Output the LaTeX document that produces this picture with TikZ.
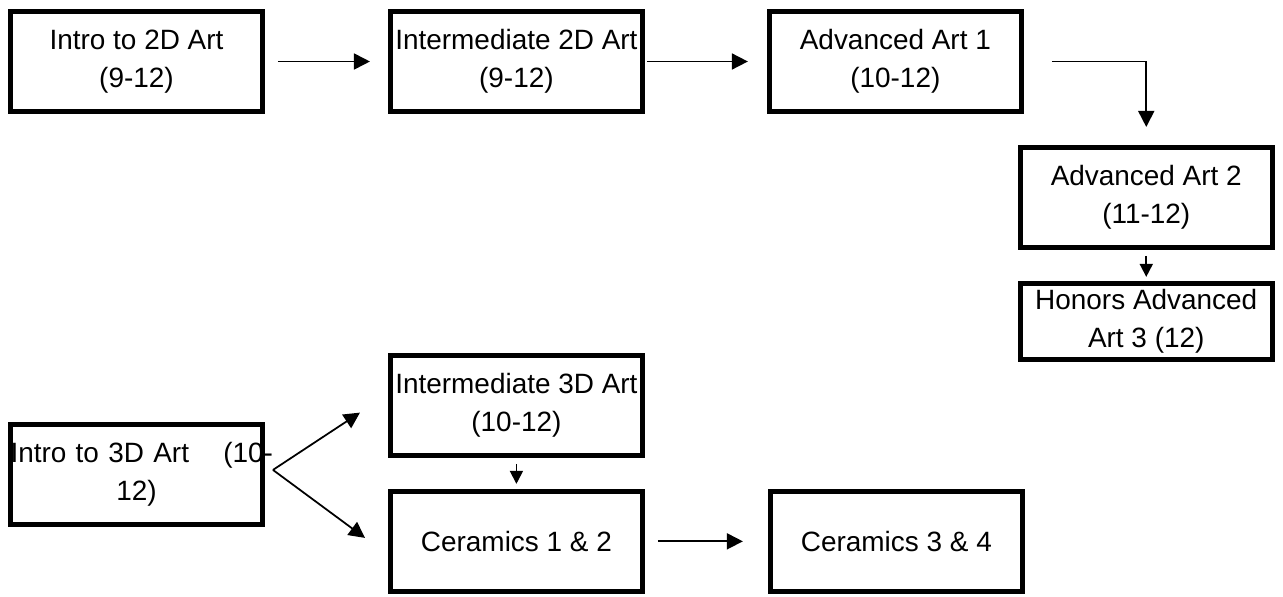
\documentclass[tikz,border=0pt]{standalone}
\usepackage{fontspec}
\setmainfont{Liberation Sans}
\usetikzlibrary{arrows.meta, positioning}

\begin{document}
\begin{tikzpicture}[
        course/.style={draw, line width=2.8pt, minimum width=5.04cm, minimum height=2cm, align=center, inner sep=0pt, font=\fontsize{15.9}{21.5}\selectfont},
        link/.style={line width=1pt, -{Triangle[length=3.2mm, width=3.2mm]}},
        shortlink/.style={line width=1pt, -{Triangle[length=2.6mm, width=2.6mm]}}
    ]
        \useasboundingbox (0,0) rectangle (25.66,-11.92);

        \node [course] (I2D) at (2.73,-1.23) {Intro to 2D Art\\(9-12)};
        \node [course, right=2.46cm of I2D] (M2D) {Intermediate 2D Art\\(9-12)};
        \node [course, right=2.44cm of M2D] (ADV1) {Advanced Art 1\\(10-12)};
        \node [course, below=0.62cm of ADV1.south east, anchor=north west, xshift=-0.12cm] (ADV2) {Advanced Art 2\\(11-12)};
        \node [course, minimum height=1.52cm, below=0.62cm of ADV2] (HON3) {Honors Advanced\\Art 3 (12)};

        \node [course, text width=5.04cm, below=6.16cm of I2D] (I3D) {\mbox{Intro to 3D Art\hspace{0.5cm} (10-}\\12)};
        \node [course, below=4.78cm of M2D] (M3D) {Intermediate 3D Art\\(10-12)};
        \node [course, below=0.62cm of M3D] (CER12) {Ceramics 1 \& 2};
        \node [course, right=2.46cm of CER12] (CER34) {Ceramics 3 \& 4};
        \coordinate [right=0.16cm of I3D.east, yshift=0.09cm] (fork);

        \draw [link, shorten <=0.26cm, shorten >=0.36cm] (I2D) -- (M2D);
        \draw [link, shorten <=0.04cm, shorten >=0.38cm] (M2D) -- (ADV1);
        \draw [link, shorten <=0.56cm, shorten >=0.36cm] (ADV1) -| (ADV2);
        \draw [shortlink, shorten <=0.12cm, shorten >=0.08cm] (ADV2) -- (HON3);

        \draw [link, shorten >=0.67cm] (fork) -- (M3D.175);
        \draw [link, shorten >=0.57cm] (fork) -- (CER12.186);
        \draw [shortlink, shorten <=0.12cm, shorten >=0.1cm] (M3D) -- (CER12);
        \draw [link, shorten <=0.26cm, shorten >=0.5cm] (CER12) -- (CER34);
\end{tikzpicture}
\end{document}
